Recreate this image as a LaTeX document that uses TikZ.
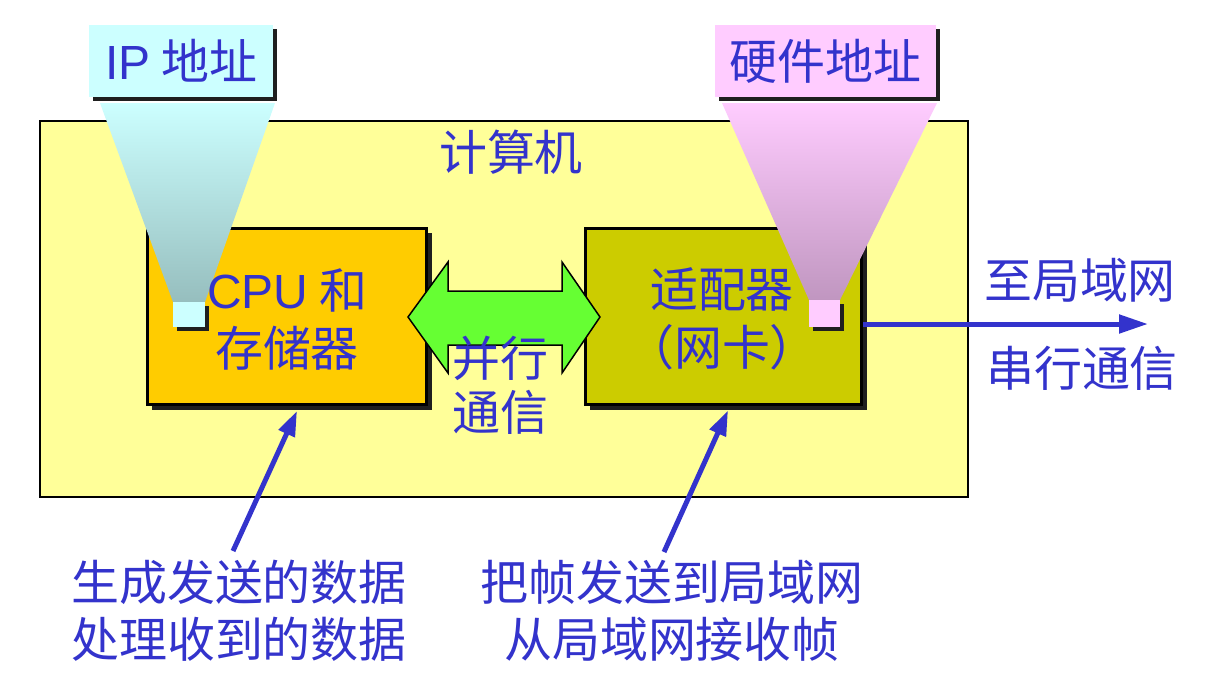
\documentclass[tikz,border=0pt]{standalone}
\usepackage{fontspec}
\setmainfont{Liberation Sans}
\newfontfamily\cjk{Noto Sans CJK SC}
\newfontfamily\arialfont{Liberation Sans}
\usetikzlibrary{arrows.meta,shadows,positioning}
\definecolor{txtblue}{HTML}{3333CC}
\definecolor{pcyellow}{HTML}{FFFF99}
\definecolor{cpuorange}{HTML}{FFCC00}
\definecolor{nicolive}{HTML}{CCCC00}
\definecolor{busgreen}{HTML}{66FF33}
\definecolor{ipcyan}{HTML}{CCFFFF}
\definecolor{ipcone}{HTML}{96BEBE}
\definecolor{hwpink}{HTML}{FFCCFF}
\definecolor{hwcone}{HTML}{C096C0}
\newcommand\lblfont{\fontsize{27.3}{33}\selectfont\cjk}
\tikzset{
  box/.style={draw=black,line width=0.06cm,
    drop shadow={shadow xshift=0.1cm,shadow yshift=-0.1cm,opacity=1,fill=black!88}},
  tag/.style={inner sep=0pt,
    drop shadow={shadow xshift=0.08cm,shadow yshift=-0.08cm,opacity=1,fill=black!88}},
  lbl/.style={text=txtblue,font=\lblfont,align=center,inner sep=0pt},
  link/.style={draw=txtblue,line width=0.1cm,-{Triangle[length=0.5cm,width=0.34cm]}}
}

\begin{document}
\begin{tikzpicture}[x=0.02cm,y=-0.02cm]
    \useasboundingbox (0,0) rectangle (1228,684);
    \node[draw,line width=0.04cm,fill=pcyellow,minimum width=18.56cm,minimum height=7.52cm] (pc) at (504,309) {};
    \node[box,fill=cpuorange,minimum width=5.6cm,minimum height=3.54cm] (cpu) at (287,316.5) {};
    \node[box,fill=nicolive,minimum width=5.54cm,minimum height=3.54cm] (nic) at (723.5,316.5) {};
    \filldraw[fill=busgreen,draw=black,line width=0.03cm] (408,317) -- (448,262) -- (448,291) -- (562,291)
      -- (562,262) -- (600,317) -- (562,373) -- (562,345) -- (448,345) -- (448,373) -- cycle;
    \shade[top color=ipcyan,bottom color=ipcone] (100,103) -- (275,103) -- (205,302) -- (173,302) -- cycle;
    \shade[top color=hwpink,bottom color=hwcone] (722,103) -- (937,103) -- (840,300) -- (809,300) -- cycle;
    \node[tag,lbl,fill=ipcyan,minimum width=3.68cm,minimum height=1.44cm] (ip) at (181,61) {{\arialfont IP} 地址};
    \node[tag,lbl,fill=hwpink,minimum width=4.42cm,minimum height=1.44cm] (hw) at (825.5,61) {硬件地址};
    \node[tag,fill=ipcyan,minimum width=0.64cm,minimum height=0.5cm] (ipsq) at (189,314.5) {};
    \node[tag,fill=hwpink,minimum width=0.62cm,minimum height=0.54cm] (hwsq) at (824.5,313.5) {};
    \node[lbl] (pctxt) at (511,152) {计算机};
    \node[lbl] (cputxt) at (287,319) {{\arialfont CPU} 和\\存储器};
    \node[lbl] (nictxt) at (722,319) {适配器\\（网卡）};
    \node[lbl,font=\fontsize{27.3}{31}\selectfont\cjk] (bustxt) at (500,385) {并行\\通信};
    \node[lbl] (lantxt) at (1080,280) {至局域网};
    \node[lbl] (sertxt) at (1082,368) {串行通信};
    \node[lbl,font=\fontsize{27.3}{32.3}\selectfont\cjk] (gen) at (239,611) {生成发送的数据\\处理收到的数据};
    \node[lbl,font=\fontsize{27.3}{32.3}\selectfont\cjk] (frame) at (672,611) {把帧发送到局域网\\从局域网接收帧};
    \coordinate (lan) at (1148,324);
    \coordinate (genup) at (233,551);
    \coordinate (frameup) at (664,552);
    \draw[link,-{Triangle[length=0.58cm,width=0.36cm]}] (nic.east |- lan) -- (lan);
    \draw[link] (genup) -- ([shift={(0.2cm,-0.09cm)}]cpu.south);
    \draw[link] (frameup) -- ([shift={(0.09cm,-0.08cm)}]nic.south);
  \end{tikzpicture}
\end{document}
